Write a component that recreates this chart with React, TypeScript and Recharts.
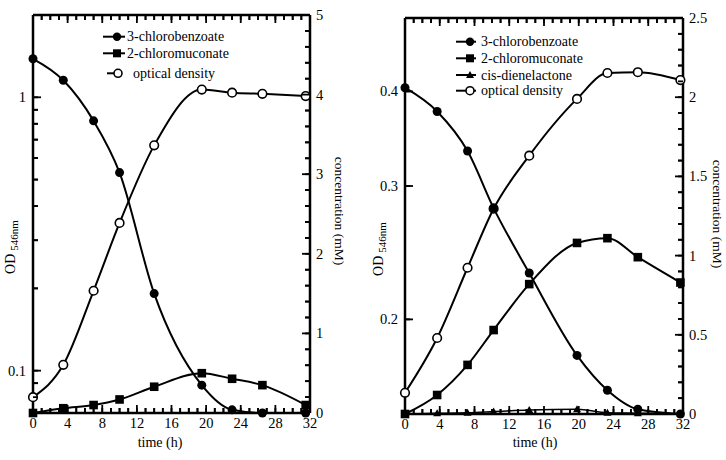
import { LineChart, Line, XAxis, YAxis } from "recharts"

const FONT = '"Liberation Serif", "Times New Roman", serif'

// left panel
const timeA = [0, 3.5, 7, 10, 14, 19.5, 23, 26.5, 31.5]
const chlorobenzoateA = [4.45, 4.18, 3.67, 3.02, 1.5, 0.35, 0.04, 0, 0]
const chloromuconateA = [0, 0.06, 0.1, 0.17, 0.33, 0.5, 0.43, 0.35, 0.1]
const odA = [0.08, 0.105, 0.196, 0.347, 0.667, 1.067, 1.04, 1.03, 1.01]

// right panel
const timeB = [0, 3.7, 7.2, 10.2, 14.3, 19.8, 23.3, 26.8, 31.7]
const chlorobenzoateB = [2.06, 1.91, 1.66, 1.3, 0.89, 0.37, 0.15, 0.03, 0]
const chloromuconateB = [0, 0.12, 0.31, 0.53, 0.82, 1.08, 1.11, 0.99, 0.83]
const dienelactoneB = [0, 0.004, 0.008, 0.015, 0.025, 0.03, 0.008, 0.005, 0]
const odB = [0.16, 0.189, 0.234, 0.28, 0.329, 0.391, 0.423, 0.424, 0.414]

const hourTicks = Array.from({ length: 33 }, (_, i) => i)
const hourLabels = [0, 4, 8, 12, 16, 20, 24, 28, 32]

const odTicksA = [0.07, 0.08, 0.09, 0.1, 0.2, 0.3, 0.4, 0.5, 0.6, 0.7, 0.8, 0.9, 1]
const odLabelsA = [0.1, 1]
const concTicksA = Array.from({ length: 26 }, (_, i) => i * 0.2)
const concLabelsA = [0, 1, 2, 3, 4, 5]

const odTicksB = [0.2, 0.3, 0.4]
const odLabelsB = [0.2, 0.3, 0.4]
const concTicksB = Array.from({ length: 26 }, (_, i) => i * 0.1)
const concLabelsB = [0, 0.5, 1, 1.5, 2, 2.5]

const tableA = timeA.map((t, i) => ({ t, cb: chlorobenzoateA[i], mu: chloromuconateA[i], od: odA[i] }))
const tableB = timeB.map((t, i) => ({
  t,
  cb: chlorobenzoateB[i],
  mu: chloromuconateB[i],
  dl: dienelactoneB[i],
  od: odB[i],
}))

const fmt = (v: number) => String(Number(v.toFixed(2)))

// native tick lines go 5px inward (tickSize -5); this adds longer majors and the labels
function makeTick(side: string, labels: number[], showText = true) {
  return (p: any) => {
    const v = p.payload.value
    const major = labels.some((l) => Math.abs(l - v) < 1e-6)
    const len = major ? 8 : 5
    const { x, y } = p
    let line
    let text = null
    if (side === "bottom") {
      line = <line x1={x} y1={y} x2={x} y2={y - len} stroke="#000" strokeWidth={1.8} />
      if (major && showText)
        text = <text x={x} y={y + 15} textAnchor="middle">{fmt(v)}</text>
    } else if (side === "top") {
      line = <line x1={x} y1={y} x2={x} y2={y + len} stroke="#000" strokeWidth={1.8} />
    } else if (side === "left") {
      line = <line x1={x} y1={y} x2={x + len} y2={y} stroke="#000" strokeWidth={1.8} />
      if (major && showText)
        text = <text x={x - 7} y={y + 5} textAnchor="end">{fmt(v)}</text>
    } else {
      line = <line x1={x} y1={y} x2={x - len} y2={y} stroke="#000" strokeWidth={1.8} />
      if (major && showText)
        text = <text x={x + 6} y={y + 5} textAnchor="start">{fmt(v)}</text>
    }
    return (
      <g key={`${side}-${v}`}>
        {line}
        {text && (
          <g stroke="none" fill="#000" fontFamily={FONT} fontSize={14.5}>
            {text}
          </g>
        )}
      </g>
    )
  }
}

const filledDot = (p: any) => <circle key={`c${p.index}`} cx={p.cx} cy={p.cy} r={4.5} fill="#000" />
const squareDot = (p: any) => (
  <rect key={`s${p.index}`} x={p.cx - 4.3} y={p.cy - 4.3} width={8.6} height={8.6} fill="#000" />
)
const triDot = (p: any) => (
  <polygon
    key={`t${p.index}`}
    points={`${p.cx},${p.cy - 4} ${p.cx - 4},${p.cy + 3} ${p.cx + 4},${p.cy + 3}`}
    fill="#000"
  />
)
const openDot = (p: any) => (
  <circle key={`o${p.index}`} cx={p.cx} cy={p.cy} r={4.3} fill="#fff" stroke="#000" strokeWidth={1.6} />
)

const frame = { stroke: "#000", strokeWidth: 2.5 }
const tickStroke = { stroke: "#000", strokeWidth: 1.8 }
const axisCommon: any = {
  interval: 0,
  tickSize: -5,
  tickMargin: 5,
  tickLine: tickStroke,
  axisLine: frame,
}

function LegendRow({ x, y, text, marker, lineFrom, lineTo, textX }: any) {
  return (
    <g>
      <line x1={lineFrom} y1={y} x2={lineTo} y2={y} stroke="#000" strokeWidth={2} />
      {marker === "circle" && <circle cx={x} cy={y} r={4.2} fill="#000" />}
      {marker === "square" && <rect x={x - 4} y={y - 4} width={8} height={8} fill="#000" />}
      {marker === "triangle" && (
        <polygon points={`${x},${y - 4} ${x - 4},${y + 3} ${x + 4},${y + 3}`} fill="#000" />
      )}
      {marker === "open" && <circle cx={x} cy={y} r={4} fill="#fff" stroke="#000" strokeWidth={1.6} />}
      <text x={textX} y={y + 4.5} fontFamily={FONT} fontSize={14} fill="#000">
        {text}
      </text>
    </g>
  )
}

function AxisTitles({ odX, odY, concX, concY, timeX }: any) {
  return (
    <g fontFamily={FONT} fill="#000">
      <text x={odX} y={odY} transform={`rotate(-90, ${odX}, ${odY})`} textAnchor="middle" fontSize={14}>
        OD
        <tspan fontSize={11} dy={3} dx={3}>
          546nm
        </tspan>
      </text>
      <text x={concX} y={concY} transform={`rotate(90, ${concX}, ${concY})`} textAnchor="middle" fontSize={13.5}>
        concentration (mM)
      </text>
      <text x={timeX} y={447} textAnchor="middle" fontSize={14}>
        time (h)
      </text>
    </g>
  )
}

const overlay: any = { position: "absolute", left: 0, top: 0, pointerEvents: "none" }

function PanelA() {
  return (
    <div style={{ position: "absolute", left: 0, top: 0, width: 363, height: 460 }}>
      <svg width={363} height={460} style={overlay}>
        <LegendRow y={36.7} x={117} lineFrom={103} lineTo={125} textX={127} marker="circle" text="3-chlorobenzoate" />
        <LegendRow y={53.3} x={117} lineFrom={103} lineTo={125} textX={127} marker="square" text="2-chloromuconate" />
        <LegendRow y={73.3} x={118} lineFrom={107} lineTo={121} textX={133} marker="open" text="optical density" />
        <AxisTitles odX={15} odY={247} concX={335} concY={211} timeX={160} />
      </svg>
      <LineChart width={363} height={460} data={tableA} margin={{ top: 0, right: 0, bottom: 0, left: 0 }}>
        <XAxis
          {...axisCommon}
          dataKey="t"
          type="number"
          domain={[0, 32]}
          ticks={hourTicks}
          height={47}
          tick={makeTick("bottom", hourLabels)}
        />
        <XAxis
          {...axisCommon}
          xAxisId="top"
          dataKey="t"
          orientation="top"
          type="number"
          domain={[0, 32]}
          ticks={hourTicks}
          height={15}
          tick={makeTick("top", hourLabels, false)}
        />
        <YAxis
          {...axisCommon}
          yAxisId="od"
          scale="log"
          type="number"
          domain={[0.07, 2]}
          allowDataOverflow
          ticks={odTicksA}
          width={33}
          tick={makeTick("left", odLabelsA)}
        />
        <YAxis
          {...axisCommon}
          yAxisId="c"
          orientation="right"
          type="number"
          domain={[0, 5]}
          ticks={concTicksA}
          width={53}
          tick={makeTick("right", concLabelsA)}
        />
        <Line yAxisId="od" dataKey="od" type="monotone" stroke="#000" strokeWidth={2} dot={openDot} isAnimationActive={false} />
        <Line yAxisId="c" dataKey="cb" type="monotone" stroke="#000" strokeWidth={2} dot={filledDot} isAnimationActive={false} />
        <Line yAxisId="c" dataKey="mu" type="monotone" stroke="#000" strokeWidth={2} dot={squareDot} isAnimationActive={false} />
      </LineChart>
    </div>
  )
}

function PanelB() {
  return (
    <div style={{ position: "absolute", left: 363, top: 0, width: 363, height: 460 }}>
      <svg width={363} height={460} style={overlay}>
        <LegendRow y={41.7} x={107} lineFrom={93} lineTo={113} textX={118} marker="circle" text="3-chlorobenzoate" />
        <LegendRow y={58.3} x={107} lineFrom={93} lineTo={113} textX={118} marker="square" text="2-chloromuconate" />
        <LegendRow y={75} x={107} lineFrom={93} lineTo={113} textX={118} marker="triangle" text="cis-dienelactone" />
        <LegendRow y={90.7} x={107} lineFrom={93} lineTo={113} textX={118} marker="open" text="optical density" />
        <AxisTitles odX={20} odY={249} concX={350} concY={214} timeX={172} />
      </svg>
      <LineChart width={363} height={460} data={tableB} margin={{ top: 0, right: 0, bottom: 0, left: 0 }}>
        <XAxis
          {...axisCommon}
          dataKey="t"
          type="number"
          domain={[0, 32]}
          ticks={hourTicks}
          height={46}
          tick={makeTick("bottom", hourLabels)}
        />
        <XAxis
          {...axisCommon}
          xAxisId="top"
          dataKey="t"
          orientation="top"
          type="number"
          domain={[0, 32]}
          ticks={hourTicks}
          height={18}
          tick={makeTick("top", hourLabels, false)}
        />
        <YAxis
          {...axisCommon}
          yAxisId="od"
          scale="log"
          type="number"
          domain={[0.15, 0.5]}
          allowDataOverflow
          ticks={odTicksB}
          width={42}
          tick={makeTick("left", odLabelsB)}
        />
        <YAxis
          {...axisCommon}
          yAxisId="c"
          orientation="right"
          type="number"
          domain={[0, 2.5]}
          ticks={concTicksB}
          width={43}
          tick={makeTick("right", concLabelsB)}
        />
        <Line yAxisId="od" dataKey="od" type="monotone" stroke="#000" strokeWidth={2} dot={openDot} isAnimationActive={false} />
        <Line yAxisId="c" dataKey="cb" type="monotone" stroke="#000" strokeWidth={2} dot={filledDot} isAnimationActive={false} />
        <Line yAxisId="c" dataKey="mu" type="monotone" stroke="#000" strokeWidth={2} dot={squareDot} isAnimationActive={false} />
        <Line yAxisId="c" dataKey="dl" type="monotone" stroke="#000" strokeWidth={1.6} dot={triDot} isAnimationActive={false} />
      </LineChart>
    </div>
  )
}

export default function App() {
  return (
    <div style={{ position: "absolute", left: 0, top: 0, width: 726, height: 460 }}>
      <PanelA />
      <PanelB />
    </div>
  )
}
